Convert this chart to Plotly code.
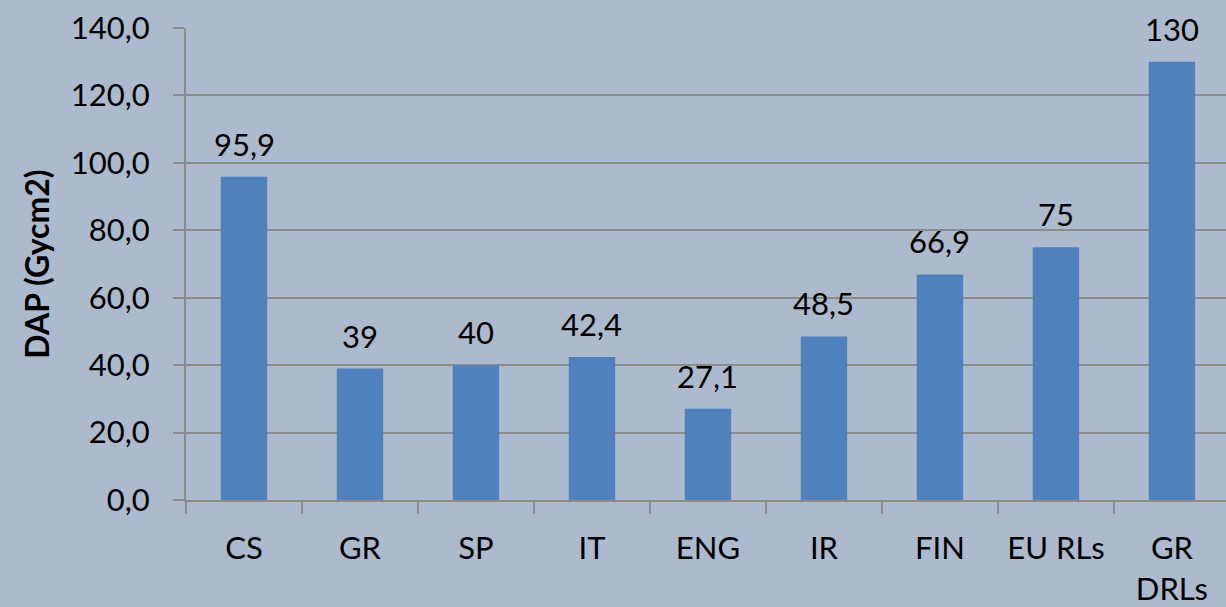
import plotly.graph_objects as go

categories = ["CS", "GR", "SP", "IT", "ENG", "IR", "FIN", "EU RLs", "GR<br>DRLs"]
values = [95.9, 39, 40, 42.4, 27.1, 48.5, 66.9, 75, 130]
y_ticks = [0, 20, 40, 60, 80, 100, 120, 140]

def fmt(v):
    s = str(v)
    if s.endswith(".0"):
        s = s[:-2]
    return s.replace(".", ",")

labels = [fmt(v) for v in values]

BG = "#ADB9CD"
FONT = "Lato"
GRID = "#8C8C8C"

fig = go.Figure(go.Bar(
    x=categories, y=values,
    marker=dict(color="#4F81BD", line=dict(width=0)),
))

for c, v, t in zip(categories, values, labels):
    fig.add_annotation(x=c, y=v, text=t, showarrow=False, yanchor="bottom",
                       yshift=12, font=dict(family=FONT, size=31, color="black"))

fig.update_layout(
    width=1226, height=607,
    paper_bgcolor=BG, plot_bgcolor=BG,
    margin=dict(l=186, r=0, t=28, b=107, autoexpand=False),
    bargap=0.6,
    showlegend=False,
    separators=",.",
    font=dict(family=FONT, size=31, color="black"),
)
fig.update_xaxes(
    type="category", tickson="boundaries", ticks="outside", ticklen=12,
    tickcolor=GRID, tickwidth=2, showgrid=False,
    showline=True, linecolor=GRID, linewidth=2,
    tickfont=dict(family=FONT, size=31),
    ticklabelstandoff=20,
    range=[-0.5, 8.466], automargin=False,
)
fig.update_yaxes(
    range=[0, 140], tickvals=y_ticks, tickformat=".1f",
    ticks="outside", ticklen=11, tickcolor=GRID, tickwidth=2,
    showgrid=True, gridcolor=GRID, gridwidth=2,
    showline=True, linecolor=GRID, linewidth=2,
    zeroline=False,
    tickfont=dict(family=FONT, size=31),
    ticklabelstandoff=17, automargin=False,
    title=dict(text="<b>DAP (Gycm2)</b>", font=dict(family=FONT, size=32, weight="bold"), standoff=12),
)

fig.write_html("out.html", config={"displayModeBar": False},
               post_script="document.body.style.margin='0';")
